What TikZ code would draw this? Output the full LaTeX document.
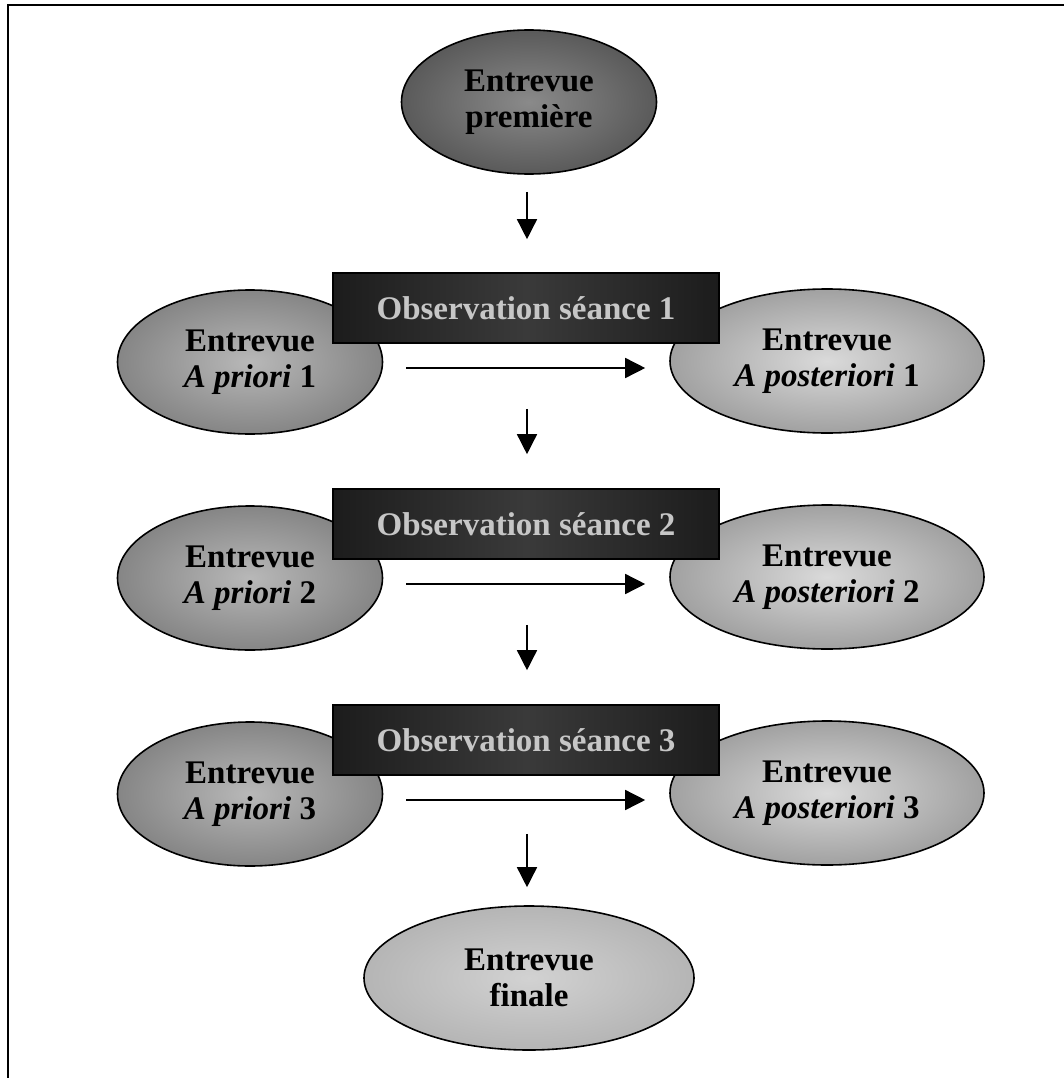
\documentclass[tikz,border=0pt]{standalone}
\usepackage{fontspec}
\setmainfont{Liberation Serif}
\usetikzlibrary{shapes.geometric,arrows.meta}
\definecolor{tin}{HTML}{8A8A8A}\definecolor{tout}{HTML}{2A2A2A}
\definecolor{lin}{HTML}{B8B8B8}\definecolor{lout}{HTML}{535353}
\definecolor{rin}{HTML}{DADADA}\definecolor{rout}{HTML}{686868}
\definecolor{fin}{HTML}{D2D2D2}\definecolor{fout}{HTML}{989898}
\definecolor{obsdark}{HTML}{1C1C1C}\definecolor{obsmid}{HTML}{3A3A3A}
\definecolor{obstext}{HTML}{C6C6C6}
\pgfdeclareradialshading{topsh}{\pgfpoint{0bp}{0bp}}{color(0bp)=(tin); color(50bp)=(tout); color(80bp)=(tout)}
\pgfdeclareradialshading{leftsh}{\pgfpoint{0bp}{0bp}}{color(0bp)=(lin); color(50bp)=(lout); color(80bp)=(lout)}
\pgfdeclareradialshading{rightsh}{\pgfpoint{0bp}{0bp}}{color(0bp)=(rin); color(50bp)=(rout); color(80bp)=(rout)}
\pgfdeclareradialshading{finsh}{\pgfpoint{0bp}{0bp}}{color(0bp)=(fin); color(50bp)=(fout); color(80bp)=(fout)}
\tikzset{
  txt/.style={font=\fontsize{33}{36}\selectfont\bfseries, align=center},
  ell/.style={ellipse, draw=black, line width=1.6pt, inner sep=0pt, txt, minimum height=144pt},
  topell/.style={ell, shade, shading=topsh, minimum width=255pt},
  leftell/.style={ell, shade, shading=leftsh, minimum width=265pt},
  rightell/.style={ell, shade, shading=rightsh, minimum width=314pt},
  finell/.style={ell, shade, shading=finsh, minimum width=330pt},
  obsbox/.style={rectangle, draw=black, line width=1.6pt, minimum width=386pt, minimum height=70pt,
    left color=obsdark, right color=obsdark, middle color=obsmid, txt, text=obstext, inner sep=0pt},
  arr/.style={line width=1.5pt, -{Triangle[width=20pt,length=20pt]}},
  frame/.style={line width=2pt}
}
\begin{document}
\begin{tikzpicture}[x=1pt,y=-1pt]
\useasboundingbox (0,0) rectangle (1064,1078);
\draw[frame] (7.5,1078) -- (7.5,5) -- (1064,5);

\node[topell] (top) at (529,102) {Entrevue\\première};

\node[leftell] (L1) at (250,362) {Entrevue\\\textit{A priori} 1};
\node[rightell] (R1) at (827,361) {Entrevue\\\textit{A posteriori} 1};
\node[obsbox] (O1) at (526,308) {Observation séance 1};

\node[leftell] (L2) at (250,578) {Entrevue\\\textit{A priori} 2};
\node[rightell] (R2) at (827,577) {Entrevue\\\textit{A posteriori} 2};
\node[obsbox] (O2) at (526,524) {Observation séance 2};

\node[leftell] (L3) at (250,794) {Entrevue\\\textit{A priori} 3};
\node[rightell] (R3) at (827,793) {Entrevue\\\textit{A posteriori} 3};
\node[obsbox] (O3) at (526,740) {Observation séance 3};

\node[finell] (F) at (529,978) {Entrevue\\finale};

\draw[arr] ([xshift=-2pt,yshift=-17pt]top.south) -- ([xshift=1pt,yshift=33pt]O1.north);
\draw[arr] ([xshift=1pt,yshift=-65pt]O1.south) -- ([xshift=1pt,yshift=34pt]O2.north);
\draw[arr] ([xshift=1pt,yshift=-65pt]O2.south) -- ([xshift=1pt,yshift=34pt]O3.north);
\draw[arr] ([xshift=1pt,yshift=-58pt]O3.south) -- ([xshift=-2pt,yshift=18pt]F.north);

\draw[arr] ([shift={(23pt,-6pt)}]L1.east) -- ([shift={(-24pt,-7pt)}]R1.west);
\draw[arr] ([shift={(23pt,-6pt)}]L2.east) -- ([shift={(-24pt,-7pt)}]R2.west);
\draw[arr] ([shift={(23pt,-6pt)}]L3.east) -- ([shift={(-24pt,-7pt)}]R3.west);
\end{tikzpicture}
\end{document}
